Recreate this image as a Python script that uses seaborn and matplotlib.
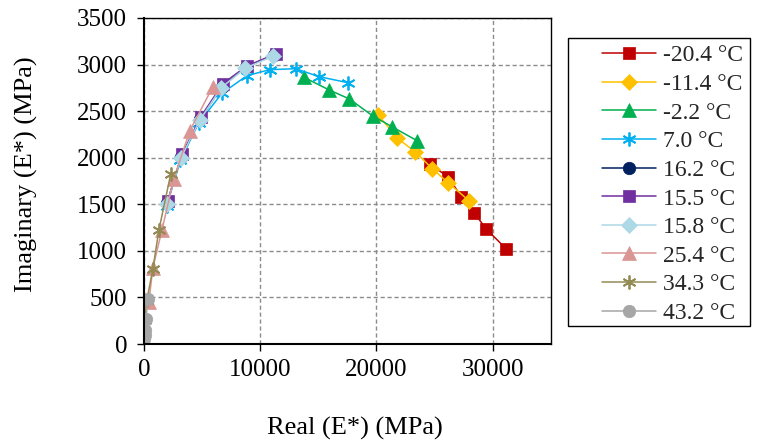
import matplotlib
matplotlib.use("Agg")
import matplotlib.pyplot as plt
import seaborn as sns
import pandas as pd
from matplotlib.patches import Rectangle

# ---- data ----
labels = ["-20.4 °C", "-11.4 °C", "-2.2 °C", "7.0 °C", "16.2 °C",
          "15.5 °C", "15.8 °C", "25.4 °C", "34.3 °C", "43.2 °C"]

real_m20 = [24640, 26180, 27300, 28410, 29440, 31160]
imag_m20 = [1930, 1790, 1580, 1405, 1235, 1020]

real_m11 = [20170, 21800, 23350, 24810, 26180, 27980]
imag_m11 = [2455, 2210, 2060, 1880, 1730, 1535]

real_m2 = [13730, 15880, 17680, 19660, 21370, 23520]
imag_m2 = [2865, 2730, 2630, 2450, 2330, 2180]

real_p7 = [1950, 3150, 4700, 6710, 8860, 10830, 13070, 15050, 17540]
imag_p7 = [1480, 1970, 2370, 2690, 2880, 2945, 2955, 2870, 2805]

real_p16 = [2000, 3210, 4830, 6700, 8750, 11150]
imag_p16 = [1510, 2010, 2410, 2760, 2970, 3100]

real_p15 = [2060, 3270, 4900, 6790, 8860, 11350]
imag_p15 = [1540, 2035, 2440, 2795, 2985, 3115]

real_p158 = [1990, 3200, 4800, 6650, 8700, 11100]
imag_p158 = [1500, 2000, 2400, 2750, 2960, 3090]

real_p25 = [430, 775, 1550, 2580, 3955, 5930]
imag_p25 = [450, 815, 1220, 1775, 2290, 2760]

real_p34 = [40, 90, 260, 775, 1290, 2320]
imag_p34 = [130, 255, 470, 805, 1220, 1830]

real_p43 = [45, 70, 110, 180, 340]
imag_p43 = [55, 95, 150, 265, 480]

reals = [real_m20, real_m11, real_m2, real_p7, real_p16,
         real_p15, real_p158, real_p25, real_p34, real_p43]
imags = [imag_m20, imag_m11, imag_m2, imag_p7, imag_p16,
         imag_p15, imag_p158, imag_p25, imag_p34, imag_p43]

colors = ["#C00000", "#FFC000", "#00B050", "#00B0F0", "#002060",
          "#7030A0", "#ADD8E6", "#DA9694", "#948A54", "#A6A6A6"]
markers = ["s", "D", "^", (6, 2, 0), "o", "s", "D", "^", (6, 2, 0), "o"]
msizes = [9, 8, 10, 10, 9, 9, 8, 10, 10, 9]

sns.set_theme(style="white")
plt.rcParams["font.family"] = ["Liberation Serif", "DejaVu Serif"]

fig = plt.figure(figsize=(7.61, 4.48), dpi=100)
ax = fig.add_axes([0.189, 0.232, 0.535, 0.728])

for lab, xs, ys, c, m, ms in zip(labels, reals, imags, colors, markers, msizes):
    df = pd.DataFrame({"Real": xs, "Imag": ys})
    sns.lineplot(data=df, x="Real", y="Imag", sort=False, estimator=None,
                 color=c, marker=m, markersize=ms, markeredgecolor=c,
                 markeredgewidth=1.3 if isinstance(m, tuple) else 0.5,
                 linewidth=1.1, label=lab, ax=ax)

handles, labs = ax.get_legend_handles_labels()
if ax.get_legend() is not None:
    ax.get_legend().remove()

ax.set_xlim(0, 35000)
ax.set_ylim(0, 3500)
ax.set_xticks([0, 10000, 20000, 30000])
ax.set_yticks(range(0, 3501, 500))
ax.grid(True, which="major", linestyle=(0, (3, 2)), color="#8c8c8c", linewidth=1.0)
for s in ax.spines.values():
    s.set_color("black")
    s.set_linewidth(1.0)
ax.spines["left"].set_linewidth(1.5)
ax.spines["bottom"].set_linewidth(1.5)
ax.tick_params(axis="both", direction="out", length=5, width=1.0, color="black",
               labelsize=18, labelcolor="black", bottom=True, left=True)
ax.tick_params(axis="y", pad=7)
ax.tick_params(axis="x", pad=6)

ax.set_xlabel("Real (E*) (MPa)", fontsize=19, color="black")
ax.set_ylabel("Imaginary (E*) (MPa)", fontsize=19, color="black")
ax.xaxis.set_label_coords(0.518, -0.222)
ax.yaxis.set_label_coords(-0.26, 0.52)

leg = fig.legend(handles, labs, loc="upper left", bbox_to_anchor=(0.775, 0.926),
                 frameon=False, fontsize=17, handlelength=2.3, handletextpad=0.3,
                 labelspacing=0.3, borderpad=0.0)
fig.patches.append(Rectangle((568 / 761, 1 - 326 / 448), (750 - 568) / 761,
                             (326 - 38) / 448, transform=fig.transFigure,
                             fill=False, edgecolor="black", linewidth=1.0))

fig.savefig("out.png", dpi=100)
